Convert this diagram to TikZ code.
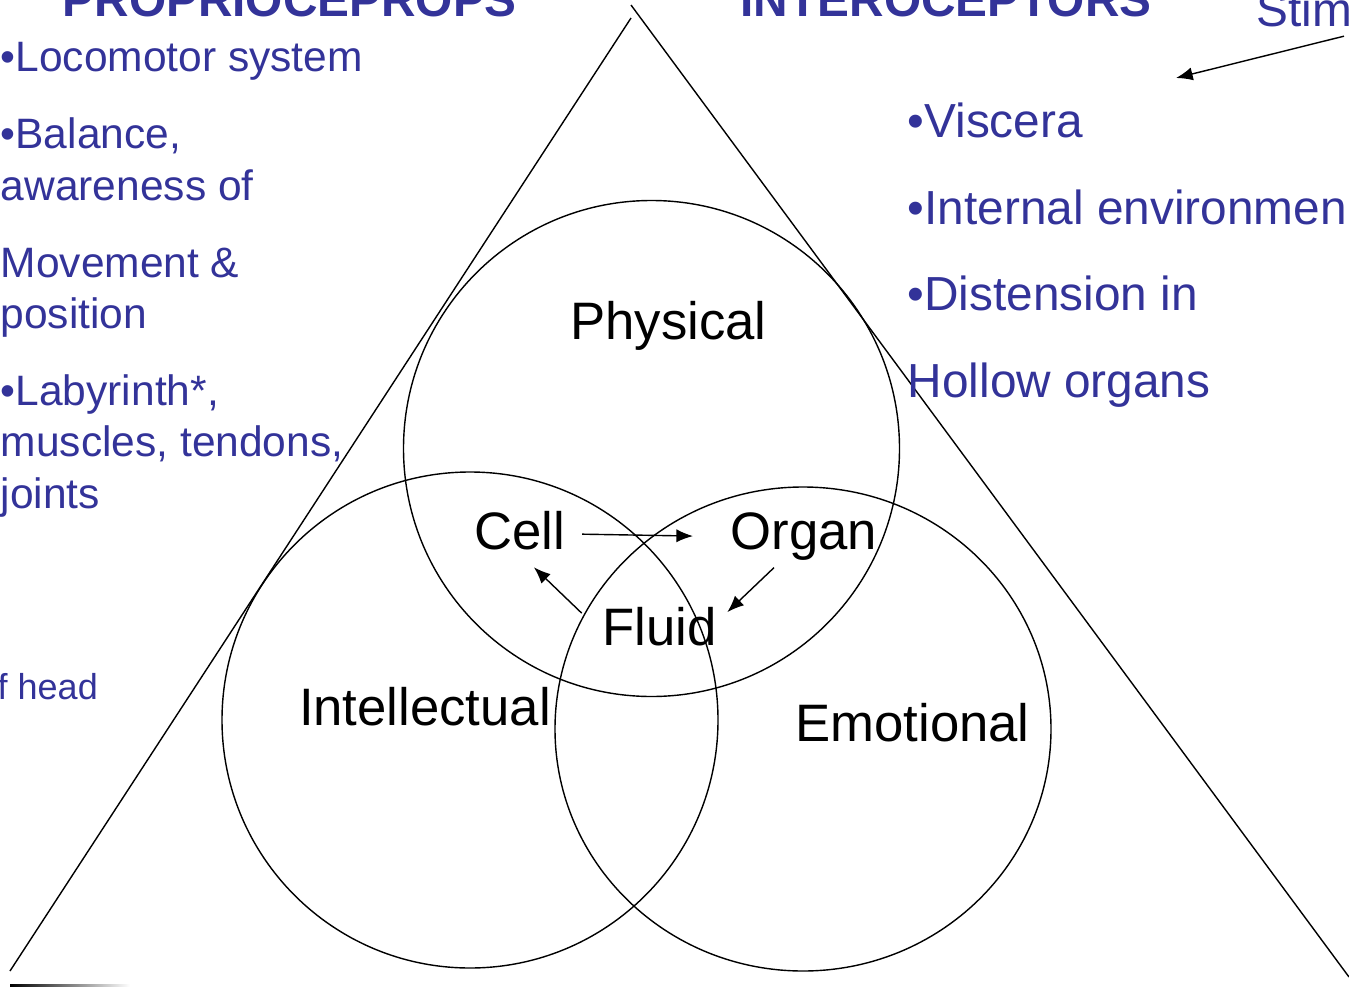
\documentclass[tikz,border=0pt]{standalone}
\usepackage{fontspec}
\setmainfont{Liberation Sans}
\usetikzlibrary{arrows.meta}
\definecolor{senseblue}{RGB}{51,51,153}

\begin{document}
\begin{tikzpicture}[
  x=0.02cm, y=-0.02cm, line width=0.8pt,
  part/.style={inner sep=0pt,anchor=base,font=\fontsize{30}{36}\selectfont},
  sense/.style={inner sep=0pt,anchor=base west,text=senseblue,font=\fontsize{24.2}{29}\selectfont},
  sensebig/.style={sense,font=\fontsize{27.2}{32}\selectfont},
  title/.style={sense,font=\fontsize{27.2}{32}\selectfont\bfseries},
  flow/.style={-{Latex[length=9.5pt,width=7.5pt]}}
]
  \useasboundingbox (0,0) rectangle (1349,987);
  % triangle
  \draw (631,18) -- (10,971);
  \draw (631,5) -- (1349,977);
  \shade[left color=black,right color=white] (10,984.5) rectangle (130,987);
  % circles
  \draw (651.5,448.5) circle[radius=248];
  \draw (470,720) circle[radius=248];
  \draw (803,729) ellipse[x radius=248,y radius=242];

  \node[part] (physical) at (668.5,339) {Physical};
  \node[part] (cell) at (520,549) {Cell};
  \node[part] (organ) at (804,549) {Organ};
  \node[part] (fluid) at (659.5,645) {Fluid};
  \node[part] (intellectual) at (425,725) {Intellectual};
  \node[part] (emotional) at (912.5,741) {Emotional};

  \draw[flow] ([shift={(16,4)}]cell.east) -- ([shift={(-37,0)}]organ.west);
  \draw[flow] ([shift={(-20,7)}]fluid.north west) -- ([shift={(60,17)}]cell.south west);
  \draw[flow] ([shift={(-30,7)}]organ.south) -- ([shift={(10,6)}]fluid.north east);

  \node[title] (propr) at (62,16) {PROPRIOCEPROPS};
  \node[title] (intero) at (740,16) {INTEROCEPTORS};

  \node[sense] (loco) at (0,71) {•Locomotor system};
  \node[sense] (bal1) at (0,148) {•Balance,};
  \node[sense] (bal2) at (0,200) {awareness of};
  \node[sense] (mov1) at (0,277) {Movement \&};
  \node[sense] (mov2) at (0,328) {position};
  \node[sense] (lab1) at (0,405) {•Labyrinth*,};
  \node[sense] (lab2) at (0,456) {muscles, tendons,};
  \node[sense] (lab3) at (0,508) {joints};
  \node[sense,font=\fontsize{20.5}{25}\selectfont] (ofhead) at (-3,699) {f head};

  \node[sensebig] (stim) at (1256,27) {Stim};
  \node[sensebig] (visc) at (907,137) {•Viscera};
  \node[sensebig] (intenv) at (907,224) {•Internal environmen};
  \node[sensebig] (dist) at (907,310) {•Distension in};
  \node[sensebig] (hollow) at (907,397) {Hollow organs};

  \coordinate (stimtip) at (1176,78);
  \draw[flow] ([shift={(-9,8)}]stim.south east) -- (stimtip);
\end{tikzpicture}
\end{document}
